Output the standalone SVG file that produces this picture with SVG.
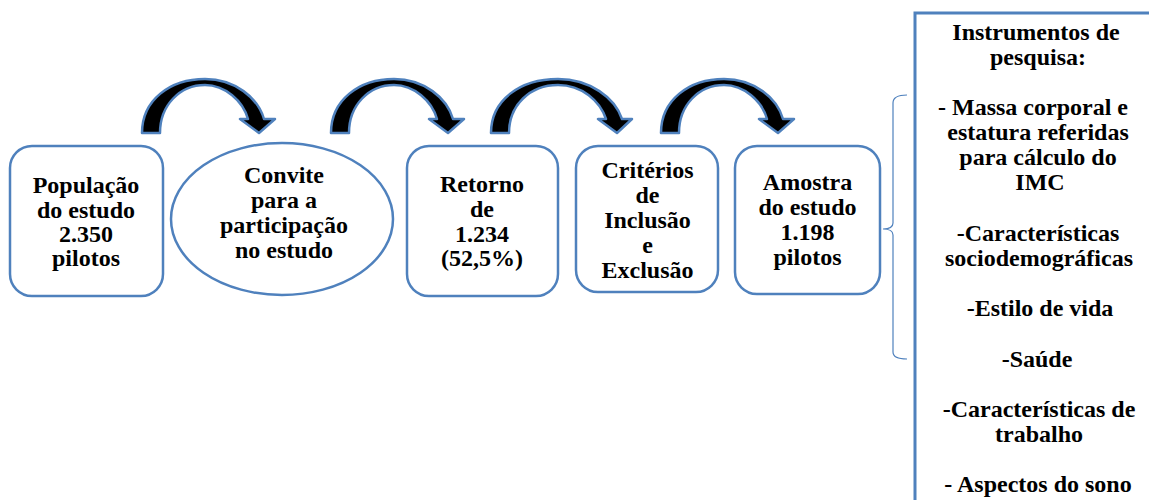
<svg xmlns="http://www.w3.org/2000/svg" width="1149" height="500" viewBox="0 0 1149 500" font-family="'Liberation Serif', 'Times New Roman', 'DejaVu Serif', serif">
<style>
.box{fill:#fff;stroke:#4F81BD;stroke-width:2.5}
.arr{fill:#000;stroke:#4F81BD;stroke-width:2.5;stroke-linejoin:round}
.brace{fill:none;stroke:#4F81BD;stroke-width:1.2}
.t{font-family:'Liberation Serif','Times New Roman','DejaVu Serif',serif;font-weight:bold;font-size:24px;fill:#000;text-anchor:middle}
</style>
<rect width="1149" height="500" fill="#fff"/>
<g id="connectors">
<path class="arr" d="M142,133 C142,100 170,79 205,79 C235,79 258,98 264,119 L275,119 L259,133 L240,119 L248,119 C243,101 225,85 205,85 C180,85 160,105 160,133 Z"/>
<path class="arr" transform="translate(189,0)" d="M142,133 C142,100 170,79 205,79 C235,79 258,98 264,119 L275,119 L259,133 L240,119 L248,119 C243,101 225,85 205,85 C180,85 160,105 160,133 Z"/>
<path class="arr" d="M491,133 C491,100 520,79 558,79 C590,79 615,98 622,119 L632,119 L617,133 L598,119 L606,119 C600,101 582,85 558,85 C530,85 509,105 509,133 Z"/>
<path class="arr" transform="translate(519,0)" d="M142,133 C142,100 170,79 205,79 C235,79 258,98 264,119 L275,119 L259,133 L240,119 L248,119 C243,101 225,85 205,85 C180,85 160,105 160,133 Z"/>
<path class="brace" d="M907,95 Q893,95 893,103 L893,223 Q893,229 883,229 Q893,229 893,235 L893,352 Q893,359 907,359"/>
</g>
<g id="populacao" class="t">
<rect class="box" x="10" y="146" width="153" height="150" rx="22"/>
<text x="86" y="193">População</text>
<text x="86" y="217.5">do estudo</text>
<text x="86" y="242">2.350</text>
<text x="86" y="266">pilotos</text>
</g>
<g id="convite" class="t">
<ellipse class="box" cx="282" cy="219" rx="111" ry="76"/>
<text x="284" y="183">Convite</text>
<text x="284" y="208">para a</text>
<text x="284" y="233">participação</text>
<text x="284" y="258">no estudo</text>
</g>
<g id="retorno" class="t">
<rect class="box" x="407" y="146" width="151" height="150" rx="22"/>
<text x="482" y="192">Retorno</text>
<text x="482" y="217">de</text>
<text x="482" y="242">1.234</text>
<text x="482" y="266">(52,5%)</text>
</g>
<g id="criterios" class="t">
<rect class="box" x="576" y="146" width="142" height="146" rx="22"/>
<text x="647.5" y="178">Critérios</text>
<text x="647.5" y="203">de</text>
<text x="647.5" y="228">Inclusão</text>
<text x="647.5" y="253">e</text>
<text x="647.5" y="278">Exclusão</text>
</g>
<g id="amostra" class="t">
<rect class="box" x="735" y="146" width="145" height="148" rx="22"/>
<text x="807.5" y="190">Amostra</text>
<text x="807.5" y="215">do estudo</text>
<text x="807.5" y="240">1.198</text>
<text x="807.5" y="265">pilotos</text>
</g>
<g id="instrumentos" class="t">
<rect x="915" y="13" width="300" height="600" fill="#fff" stroke="#4F81BD" stroke-width="3"/>
<text x="1036" y="40">Instrumentos de</text>
<text x="1038" y="65">pesquisa:</text>
<text x="1033" y="115">- Massa corporal e</text>
<text x="1038" y="140">estatura referidas</text>
<text x="1038" y="165">para cálculo do</text>
<text x="1040" y="190">IMC</text>
<text x="1038" y="241">-Características</text>
<text x="1039" y="266">sociodemográficas</text>
<text x="1040" y="316">-Estilo de vida</text>
<text x="1037" y="367">-Saúde</text>
<text x="1039" y="417">-Características de</text>
<text x="1039" y="442">trabalho</text>
<text x="1038" y="492">- Aspectos do sono</text>
</g>
</svg>
